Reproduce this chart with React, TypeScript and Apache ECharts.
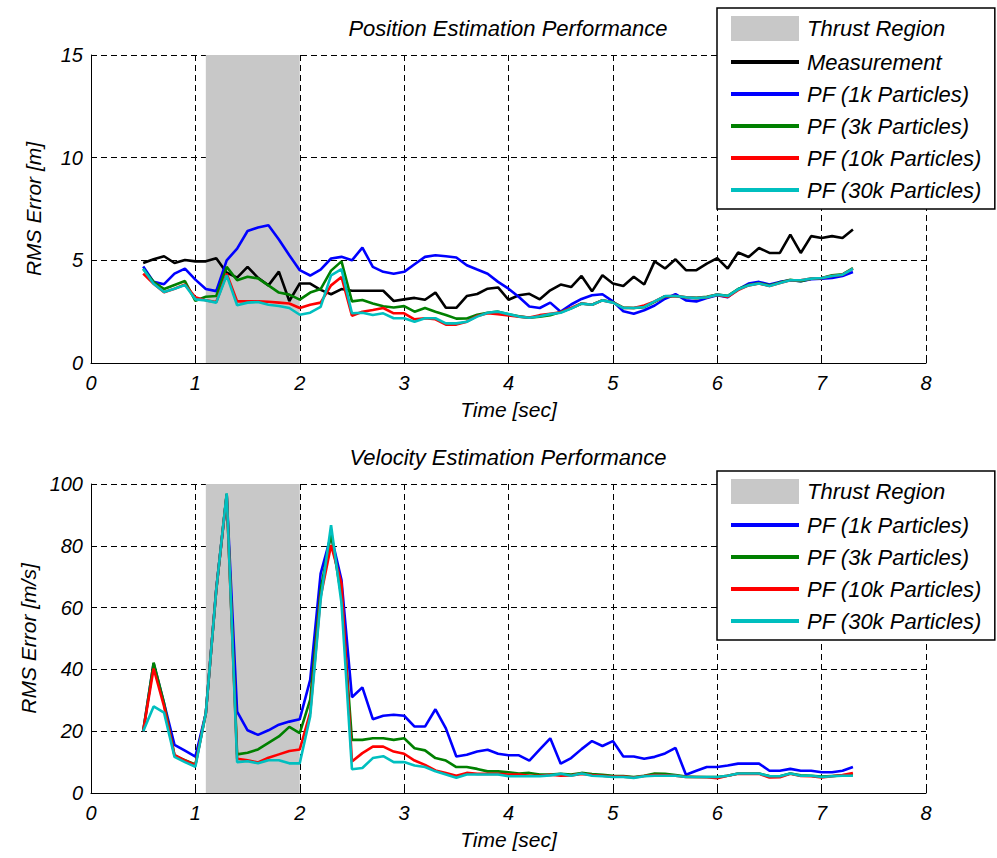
import React, { useEffect, useRef } from "react";
import * as echarts from "echarts";

// Time samples [sec]
const times = [
  0.5, 0.6, 0.7, 0.8, 0.9,
  1.0, 1.1, 1.2, 1.3, 1.4, 1.5, 1.6, 1.7, 1.8, 1.9,
  2.0, 2.1, 2.2, 2.3, 2.4, 2.5, 2.6, 2.7, 2.8, 2.9,
  3.0, 3.1, 3.2, 3.3, 3.4, 3.5, 3.6, 3.7, 3.8, 3.9,
  4.0, 4.1, 4.2, 4.3, 4.4, 4.5, 4.6, 4.7, 4.8, 4.9,
  5.0, 5.1, 5.2, 5.3, 5.4, 5.5, 5.6, 5.7, 5.8, 5.9,
  6.0, 6.1, 6.2, 6.3, 6.4, 6.5, 6.6, 6.7, 6.8, 6.9,
  7.0, 7.1, 7.2, 7.3,
];

const thrustRegion = [1.1, 2.0];

// Position RMS error [m]
const posMeasurement = [
  4.87, 5.05, 5.2, 4.87, 5.02,
  4.95, 4.95, 5.1, 4.4, 4.16, 4.68, 4.15, 3.78, 4.45, 3.02,
  3.87, 3.87, 3.56, 3.35, 3.6, 3.52, 3.52, 3.52, 3.52, 3.02,
  3.1, 3.17, 3.08, 3.43, 2.69, 2.69, 3.26, 3.36, 3.62, 3.68,
  3.08, 3.3, 3.37, 3.1, 3.54, 3.82, 3.7, 4.24, 3.49, 4.27,
  3.87, 3.75, 4.2, 3.82, 4.95, 4.6, 5.05, 4.52, 4.52, 4.84,
  5.11, 4.6, 5.38, 5.16, 5.6, 5.36, 5.36, 6.25, 5.36, 6.18,
  6.09, 6.18, 6.09, 6.5,
];
const pos1k = [
  4.7, 3.95, 3.84, 4.35, 4.6,
  4.06, 3.6, 3.5, 5.0, 5.57, 6.43, 6.6, 6.71, 6.01, 5.25,
  4.52, 4.26, 4.55, 5.09, 5.17, 5.0, 5.62, 4.68, 4.44, 4.35,
  4.44, 4.81, 5.17, 5.25, 5.2, 5.14, 4.76, 4.55, 4.35, 3.95,
  3.62, 3.21, 2.75, 2.68, 2.94, 2.5, 2.85, 3.12, 3.3, 3.35,
  3.0, 2.52, 2.4, 2.57, 2.8, 3.13, 3.35, 3.05, 3.0, 3.16,
  3.3, 3.2, 3.59, 3.87, 3.95, 3.82, 3.95, 4.03, 3.98, 4.08,
  4.11, 4.14, 4.24, 4.43,
];
const pos3k = [
  4.58, 3.95, 3.6, 3.8, 3.99,
  3.03, 3.23, 3.26, 4.68, 4.03, 4.2, 4.12, 3.78, 3.43, 3.33,
  3.09, 3.43, 3.6, 4.5, 4.95, 3.0, 3.07, 2.9, 2.76, 2.7,
  2.77, 2.5, 2.68, 2.5, 2.34, 2.16, 2.17, 2.35, 2.45, 2.5,
  2.37, 2.27, 2.2, 2.25, 2.33, 2.48, 2.66, 2.9, 2.84, 3.06,
  2.96, 2.7, 2.68, 2.72, 2.98, 3.25, 3.25, 3.2, 3.17, 3.22,
  3.33, 3.27, 3.6, 3.8, 3.88, 3.78, 3.92, 4.05, 3.98, 4.1,
  4.14, 4.27, 4.32, 4.62,
];
const pos10k = [
  4.35, 3.86, 3.45, 3.62, 3.82,
  3.2, 3.05, 2.97, 4.35, 3.0, 3.0, 3.0, 2.98, 2.94, 2.9,
  2.68, 2.84, 2.94, 3.78, 4.19, 2.3, 2.5, 2.58, 2.68, 2.42,
  2.42, 2.13, 2.18, 2.13, 1.87, 1.87, 2.01, 2.29, 2.42, 2.38,
  2.32, 2.26, 2.21, 2.33, 2.4, 2.47, 2.68, 2.9, 2.84, 3.05,
  2.95, 2.68, 2.68, 2.8, 3.0, 3.25, 3.26, 3.2, 3.16, 3.2,
  3.33, 3.22, 3.55, 3.78, 3.87, 3.75, 3.9, 4.03, 4.03, 4.11,
  4.14, 4.24, 4.3, 4.6,
];
const pos30k = [
  4.59, 3.86, 3.46, 3.62, 3.8,
  3.1, 3.05, 2.94, 4.27, 2.81, 2.94, 2.97, 2.84, 2.78, 2.68,
  2.35, 2.45, 2.73, 4.27, 4.57, 2.42, 2.45, 2.34, 2.42, 2.18,
  2.18, 2.01, 2.18, 2.18, 1.93, 1.93, 2.01, 2.26, 2.45, 2.5,
  2.38, 2.26, 2.2, 2.28, 2.38, 2.45, 2.65, 2.89, 2.84, 3.05,
  2.94, 2.68, 2.68, 2.73, 3.0, 3.26, 3.26, 3.2, 3.16, 3.2,
  3.33, 3.26, 3.59, 3.78, 3.87, 3.75, 3.9, 4.03, 4.03, 4.11,
  4.14, 4.24, 4.3, 4.59,
];

// Velocity RMS error [m/s]
const vel1k = [
  20, 42, 29, 15.6, 13.7,
  11.8, 25.8, 66, 96.5, 26.3, 20.3, 18.8, 20.3, 22.1, 23.1,
  23.9, 36.6, 71, 83.4, 68.9, 31, 34.2, 23.9, 25, 25.3,
  25, 21.5, 21.5, 27.1, 20.9, 11.8, 12.4, 13.4, 14.0, 12.7,
  12.2, 12.2, 10.5, 14.1, 17.7, 9.5, 11.3, 14.2, 16.8, 15.2,
  16.8, 11.8, 11.8, 11.1, 11.7, 12.8, 14.6, 5.9, 7.2, 8.4,
  8.4, 8.9, 9.5, 9.5, 9.5, 7.2, 7.2, 7.8, 7.2, 7.2,
  6.7, 6.7, 7.2, 8.4,
];
const vel3k = [
  20, 42.2, 29, 12.1, 10.6,
  9.2, 25.8, 65.7, 96.8, 12.5, 13.0, 14.1, 16.2, 18.3, 21.4,
  19.4, 30.2, 65.7, 84, 63.5, 17.2, 17.2, 17.7, 17.7, 17.2,
  17.7, 14.5, 13.8, 11.3, 10.5, 8.4, 8.4, 7.8, 7.0, 7.0,
  6.7, 6.3, 6.5, 6.0, 6.0, 6.2, 6.0, 6.5, 6.1, 5.9,
  5.6, 5.5, 5.2, 5.6, 6.3, 6.2, 5.8, 5.3, 5.2, 5.2,
  5.2, 5.6, 6.3, 6.3, 6.3, 5.5, 5.4, 6.3, 5.7, 5.6,
  5.3, 5.5, 5.7, 5.8,
];
const vel10k = [
  20, 40.3, 28, 12.3, 10.5,
  9.0, 25.8, 65.7, 96.5, 11.1, 10.6, 9.9, 11.4, 12.5, 13.6,
  14.1, 26, 63.5, 80.2, 67.8, 10.2, 12.9, 15.0, 15.0, 13.4,
  12.7, 10.5, 9.1, 7.3, 6.5, 5.6, 6.5, 6.2, 6.2, 6.2,
  6.0, 6.0, 5.6, 5.6, 5.9, 5.6, 5.7, 6.2, 5.8, 5.6,
  5.3, 5.3, 5.0, 5.5, 5.8, 5.7, 5.6, 5.2, 5.2, 5.1,
  4.8, 5.6, 6.2, 6.2, 6.2, 5.0, 5.1, 6.2, 5.5, 5.4,
  5.0, 5.4, 5.8, 6.5,
];
const vel30k = [
  20, 28, 26, 11.7, 10.0,
  8.5, 25.8, 65.7, 97, 10.0, 10.3, 9.6, 10.6, 10.6, 9.6,
  9.6, 24.8, 62.5, 86.7, 61.4, 7.7, 8.1, 11.3, 11.9, 10.0,
  10.0, 8.9, 8.4, 7.0, 6.0, 4.9, 6.0, 6.0, 6.0, 6.0,
  5.4, 5.4, 5.4, 5.4, 5.7, 6.2, 5.6, 6.3, 5.6, 5.4,
  5.2, 5.2, 4.9, 5.4, 5.6, 5.6, 5.6, 5.2, 5.2, 5.2,
  5.2, 5.6, 6.3, 6.3, 6.3, 5.4, 5.4, 6.3, 5.6, 5.6,
  5.2, 5.4, 5.6, 5.6,
];

const FONT = '"Liberation Sans", Arial, Helvetica, sans-serif';

export default function App() {
  const ref = useRef<HTMLDivElement>(null);

  useEffect(() => {
    if (!ref.current) return;
    const chart = echarts.init(ref.current, undefined, { renderer: "svg" });

    const pair = (vals: number[]) => times.map((t, i) => [t, vals[i]]);
    const lineIcon = "path://M0,0H68V4H0Z";

    const labelStyle = {
      color: "#000",
      fontFamily: FONT,
      fontStyle: "italic",
      fontSize: 20,
    };

    const xAxisCfg = (gi: number) => ({
      type: "value",
      gridIndex: gi,
      min: 0,
      max: 8,
      interval: 1,
      axisLine: { show: true, onZero: false, lineStyle: { color: "#000", width: 1 } },
      axisTick: { show: true, inside: true, length: 5, lineStyle: { color: "#000" } },
      axisLabel: { ...labelStyle, margin: 10 },
      splitLine: { show: true, lineStyle: { color: "#000", type: [6, 4], width: 1 } },
      name: "Time [sec]",
      nameLocation: "middle",
      nameGap: 36,
      nameTextStyle: { ...labelStyle, fontSize: 21 },
    });

    const yAxisCfg = (gi: number, max: number, interval: number, name: string) => ({
      type: "value",
      gridIndex: gi,
      min: 0,
      max,
      interval,
      axisLine: { show: true, onZero: false, lineStyle: { color: "#000", width: 1 } },
      axisTick: { show: true, inside: true, length: 5, lineStyle: { color: "#000" } },
      axisLabel: { ...labelStyle, margin: 8 },
      splitLine: { show: true, lineStyle: { color: "#000", type: [6, 4], width: 1 } },
      name,
      nameLocation: "middle",
      nameGap: 47,
      nameTextStyle: { ...labelStyle, fontSize: 21 },
    });

    const lineSeries = (name: string, color: string, vals: number[], gi: number) => ({
      type: "line",
      name,
      xAxisIndex: gi,
      yAxisIndex: gi,
      data: pair(vals),
      symbol: "none",
      showSymbol: false,
      color,
      itemStyle: { color },
      lineStyle: { color, width: 2.6 },
      emphasis: { disabled: true },
    });

    const thrustSeries = (gi: number) => ({
      type: "line",
      name: "Thrust Region",
      xAxisIndex: gi,
      yAxisIndex: gi,
      data: [],
      symbol: "none",
      color: "#c8c8c8",
      itemStyle: { color: "#c8c8c8" },
      markArea: {
        silent: true,
        itemStyle: { color: "#c8c8c8", opacity: 1 },
        data: [[{ xAxis: thrustRegion[0] }, { xAxis: thrustRegion[1] }]],
      },
    });

    const legendBase = {
      orient: "vertical",
      left: 717,
      padding: [8, 13, 8, 14],
      itemGap: 10,
      itemWidth: 68,
      itemHeight: 25,
      backgroundColor: "#fff",
      borderColor: "#000",
      borderWidth: 1.5,
      borderRadius: 0,
      selectedMode: false,
      textStyle: { ...labelStyle, fontSize: 22, padding: [0, 0, 0, 3] },
    };

    const pfNames = [
      "PF (1k Particles)",
      "PF (3k Particles)",
      "PF (10k Particles)",
      "PF (30k Particles)",
    ];

    chart.setOption({
      animation: false,
      backgroundColor: "#fff",
      grid: [
        { left: 91, right: 71, top: 55, height: 308 },
        { left: 91, right: 71, top: 484, height: 309 },
      ],
      xAxis: [xAxisCfg(0), xAxisCfg(1)],
      yAxis: [
        yAxisCfg(0, 15, 5, "RMS Error [m]"),
        yAxisCfg(1, 100, 20, "RMS Error [m/s]"),
      ],
      legend: [
        {
          ...legendBase,
          top: 8,
          data: [
            { name: "Thrust Region", icon: "rect" },
            { name: "Measurement", icon: lineIcon },
            ...pfNames.map((n) => ({ name: n, icon: lineIcon })),
          ],
        },
        {
          ...legendBase,
          top: 471,
          data: [
            { name: "Thrust Region", icon: "rect" },
            ...pfNames.map((n) => ({ name: n, icon: lineIcon })),
          ],
        },
      ],
      graphic: [
        {
          type: "text",
          x: 508,
          y: 28,
          style: {
            text: "Position Estimation Performance",
            font: `italic 22px ${FONT}`,
            fill: "#000",
            align: "center",
            verticalAlign: "middle",
          },
        },
        {
          type: "text",
          x: 508,
          y: 457,
          style: {
            text: "Velocity Estimation Performance",
            font: `italic 22px ${FONT}`,
            fill: "#000",
            align: "center",
            verticalAlign: "middle",
          },
        },
      ],
      series: [
        thrustSeries(0),
        lineSeries("Measurement", "#000000", posMeasurement, 0),
        lineSeries("PF (1k Particles)", "#0000ff", pos1k, 0),
        lineSeries("PF (3k Particles)", "#008000", pos3k, 0),
        lineSeries("PF (10k Particles)", "#ff0000", pos10k, 0),
        lineSeries("PF (30k Particles)", "#00bfbf", pos30k, 0),
        thrustSeries(1),
        lineSeries("PF (1k Particles)", "#0000ff", vel1k, 1),
        lineSeries("PF (3k Particles)", "#008000", vel3k, 1),
        lineSeries("PF (10k Particles)", "#ff0000", vel10k, 1),
        lineSeries("PF (30k Particles)", "#00bfbf", vel30k, 1),
      ],
    });

    return () => chart.dispose();
  }, []);

  return (
    <div
      ref={ref}
      style={{ position: "fixed", left: 0, top: 0, width: 997, height: 858, background: "#fff" }}
    />
  );
}
